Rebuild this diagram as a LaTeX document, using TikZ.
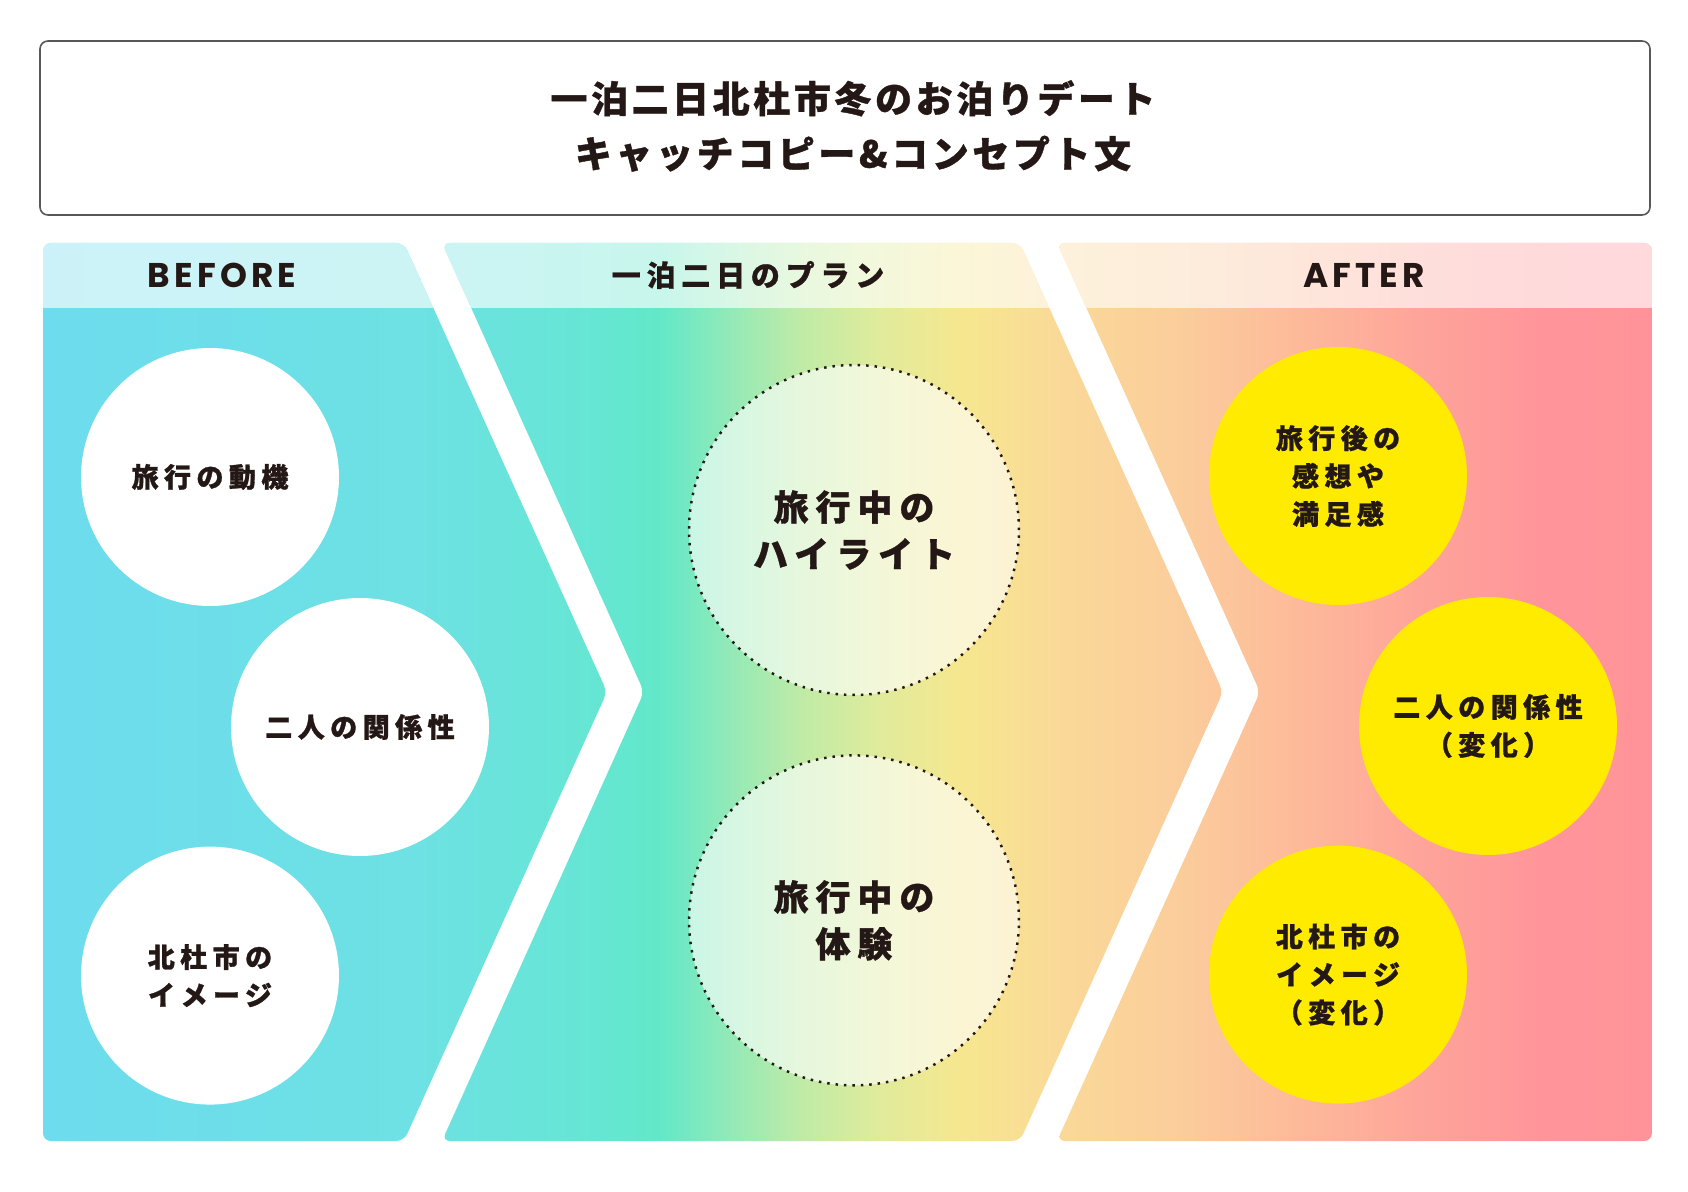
\documentclass[tikz,border=0pt]{standalone}
\usepackage{fontspec}
\usepackage{xcolor}
\usetikzlibrary{positioning}

\setmainfont{Noto Sans CJK JP}
\newfontfamily\jpfont{Noto Sans CJK JP}[LetterSpace=20, BoldFeatures={FakeBold=1}]
\newfontfamily\titlefont{Noto Sans CJK JP}[LetterSpace=10, BoldFeatures={FakeBold=1}]
\newfontfamily\enfont{Poppins}[LetterSpace=12]

\definecolor{ink}{HTML}{231815}
\definecolor{framegray}{HTML}{595757}
\definecolor{dotyellow}{HTML}{FFEB00}
% gradient stops, left to right
\definecolor{g0}{HTML}{6DDCEE}
\definecolor{g1}{HTML}{6DE1E3}
\definecolor{g2}{HTML}{65E6D3}
\definecolor{g3}{HTML}{62E8C8}
\definecolor{g4}{HTML}{8CE9BA}
\definecolor{g5}{HTML}{BFEBA6}
\definecolor{g6}{HTML}{E0EB9B}
\definecolor{g7}{HTML}{F6E78F}
\definecolor{g8}{HTML}{FAD998}
\definecolor{g9}{HTML}{FBCD9B}
\definecolor{g10}{HTML}{FDBB9A}
\definecolor{g11}{HTML}{FEA49A}
\definecolor{g12}{HTML}{FF959A}
\definecolor{g13}{HTML}{FF9399}

\begin{document}
\begin{tikzpicture}[
  x=0.02cm, y=-0.02cm,
  every node/.style={text=ink, align=center, inner sep=0pt},
  titleframe/.style={draw=framegray, line width=0.9pt, fill=white, rounded corners=4.5pt},
  titletext/.style={font=\titlefont\bfseries\fontsize{21}{31.3}\selectfont},
  headjp/.style={font=\jpfont\bfseries\fontsize{16.5}{20}\selectfont},
  headen/.style={font=\enfont\bfseries\fontsize{19.5}{22}\selectfont},
  smalltext/.style={font=\jpfont\bfseries\fontsize{15.4}{21.6}\selectfont},
  bigtext/.style={font=\jpfont\bfseries\fontsize{19.9}{26.7}\selectfont},
  beforedot/.style={circle, fill=white, minimum size=5.16cm, smalltext},
  plandot/.style={circle, draw=ink, line width=1.4pt, dash pattern=on 1.4pt off 3.4pt,
    fill=white, fill opacity=0.62, text opacity=1, minimum size=6.6cm, bigtext},
  afterdot/.style={circle, fill=dotyellow, minimum size=5.16cm, smalltext},
]
\useasboundingbox (0,0) rectangle (1688,1192);

% Title box
\draw[titleframe] (40,41) rectangle (1650,215);
\node[titletext] (title) at (853,126) {一泊二日北杜市冬のお泊りデート\\キャッチコピー\&コンセプト文};

% Chevron panels with one gradient
\begin{scope}
  \clip[rounded corners=4.5pt]
    (43,243) -- (404,243) -- (607,692) -- (404,1141) -- (43,1141) -- cycle
    (442,243) -- (1020,243) -- (1223,692) -- (1020,1141) -- (442,1141) -- (644,692) -- cycle
    (1057,243) -- (1652,243) -- (1652,1141) -- (1057,1141) -- (1260,692) -- cycle;
  \foreach \xa/\ca/\xb/\cb in {43/g0/420/g1, 420/g1/600/g2, 600/g2/660/g3, 660/g3/720/g4,
      720/g4/800/g5, 800/g5/880/g6, 880/g6/960/g7, 960/g7/1060/g8, 1060/g8/1180/g9,
      1180/g9/1290/g10, 1290/g10/1420/g11, 1420/g11/1540/g12, 1540/g12/1652/g13}
    \shade[left color=\ca, right color=\cb] (\xa-0.5,240) rectangle (\xb+0.5,1145);
  % lighter header band
  \fill[white, opacity=0.65] (0,240) rectangle (1688,308);
\end{scope}

% Headers
\node[headen] (beforehead) at (222,275) {BEFORE};
\node[headjp] (planhead) at (748,275) {一泊二日のプラン};
\node[headen] (afterhead) at (1364,275) {AFTER};

% BEFORE
\node[beforedot] (motive) at (210,477) {旅行の動機};
\node[beforedot] (bond) at (360,727) {二人の関係性};
\node[beforedot, below=4.8cm of motive] (image) {北杜市の\\イメージ};

% Plan
\node[plandot] (highlight) at (854,530) {旅行中の\\ハイライト};
\node[plandot, below=1.16cm of highlight] (experience) {旅行中の\\体験};

% AFTER
\node[afterdot] (impression) at (1338,476) {旅行後の\\感想や\\満足感};
\node[afterdot] (bondchange) at (1488,726) {二人の関係性\\（変化）};
\node[afterdot, below=4.8cm of impression] (imagechange) {北杜市の\\イメージ\\（変化）};

\end{tikzpicture}
\end{document}
